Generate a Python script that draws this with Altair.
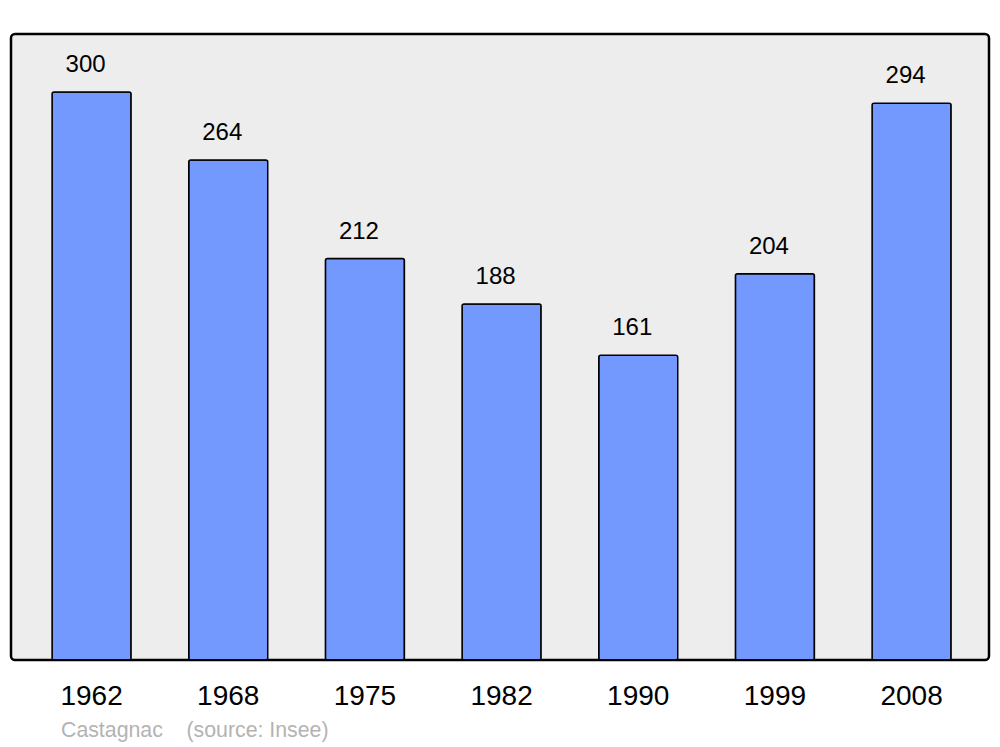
import altair as alt
import pandas as pd

years = ["1962", "1968", "1975", "1982", "1990", "1999", "2008"]
population = [300, 264, 212, 188, 161, 204, 294]

df = pd.DataFrame({"year": years, "pop": population})

font = "Liberation Sans"

x = alt.X("year:N", sort=years,
          scale=alt.Scale(paddingInner=0.422, paddingOuter=0.289, align=0.52),
          axis=alt.Axis(title=None, labelAngle=0, domain=False, ticks=False,
                        labelFontSize=28, labelFont=font, labelColor="black",
                        labelPadding=22))
y = alt.Y("pop:Q", scale=alt.Scale(domain=[0, 330.6], nice=False, zero=True),
          axis=None)

bars = alt.Chart(df).mark_bar(color="#7399ff", stroke="black", strokeWidth=1.5,
                              cornerRadius=2).encode(x=x, y=y)

labels = alt.Chart(df).mark_text(baseline="bottom", dy=-15, dx=-6, fontSize=24,
                                 font=font, color="black").encode(
    x=alt.X("year:N", sort=years), y="pop:Q", text="pop:Q")

chart = (bars + labels).properties(
    width=978, height=626,
    title=alt.TitleParams("Castagnac\u00a0\u00a0\u00a0\u00a0(source: Insee)", orient="bottom",
                          anchor="start", fontSize=21.3, font=font,
                          fontWeight="normal", color="#b3b3b3", offset=10, dx=50),
    autosize=alt.AutoSizeParams(type="none"),
    padding={"left": 3, "top": 26, "right": 3, "bottom": 87},
).configure_view(fill="#ededed", stroke="black", strokeWidth=2.5, cornerRadius=4)

chart.save("out.html", embed_options={"renderer": "svg", "actions": False})
